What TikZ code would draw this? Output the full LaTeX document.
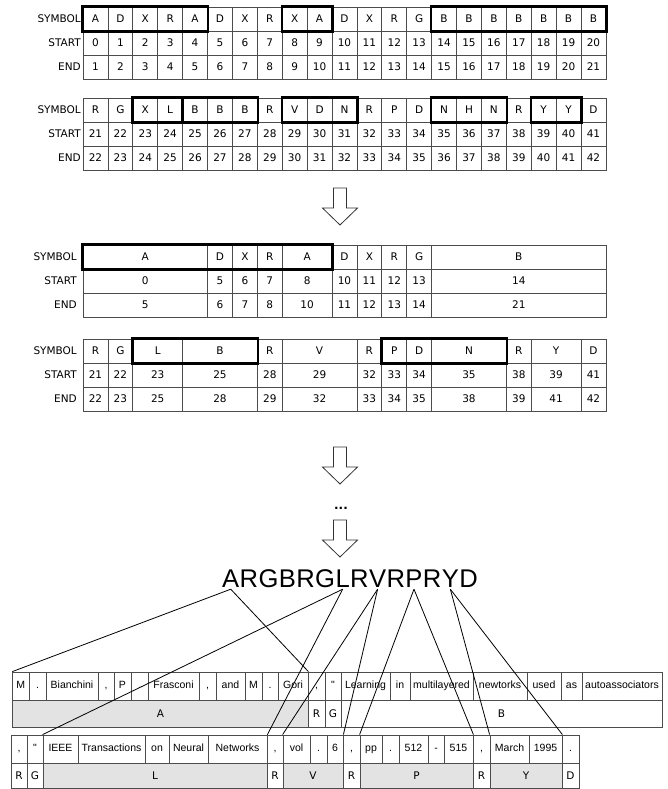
\documentclass[tikz,border=0pt]{standalone}
\usepackage{fontspec}
\setmainfont{DejaVu Sans}
\newfontfamily\arialfont{Liberation Sans}
\usetikzlibrary{positioning}

\newcommand{\tabX}{83}
\newcommand{\cw}{24.9}
\newcommand{\tabfont}{\fontsize{10.5}{12}\selectfont}

\tikzset{
  cell/.style={draw=black!70,line width=0.8pt,minimum width=\cw,minimum height=24,inner sep=0pt,font=\tabfont},
  rowlab/.style={anchor=east,inner sep=0pt,font=\tabfont},
  thickbox/.style={draw=black,line width=2.4pt},
  hollow/.style={draw=black!80,line width=0.8pt,fill=white},
  tok/.style={draw=black!70,line width=0.8pt,minimum height=28,inner sep=0pt,text height=7.6pt,text depth=2.2pt,
    font=\arialfont\fontsize{10.5}{12}\selectfont},
  tagcell/.style={draw=black!70,line width=0.8pt,inner sep=0pt,font=\tabfont},
  letter/.style={inner xsep=0pt,inner ysep=2pt,text height=19pt,text depth=0pt,font=\arialfont\fontsize{25.6}{26}\selectfont},
  conn/.style={draw=black,line width=0.8pt}
}

% one column per symbol: symbol, start, end
\newcommand{\fulltable}[3]{%
  \foreach \cs [count=\i from 0] in {#3} {
    \pgfmathtruncatemacro{\ci}{#2+\i}
    \pgfmathtruncatemacro{\cj}{#2+\i+1}
    \node[cell] (s\ci) at ({\tabX+(\i+0.5)*\cw},{#1+12}) {\cs};
    \node[cell] (b\ci) at ({\tabX+(\i+0.5)*\cw},{#1+36}) {\ci};
    \node[cell] (e\ci) at ({\tabX+(\i+0.5)*\cw},{#1+60}) {\cj};
  }
  \foreach \cl [count=\r from 0] in {SYMBOL,START,END}
    \node[rowlab] (lab#2\r) at (81,{#1+12+24*\r}) {\cl};
}

% merged runs: from/to/symbol
\newcommand{\mergedtable}[3]{%
  \foreach \ca/\cb/\cs in {#3} {
    \node[cell,minimum width={(\cb-\ca)*\cw}] (ms\ca) at ({\tabX+((\ca+\cb)/2-#2)*\cw},{#1+12}) {\cs};
    \node[cell,minimum width={(\cb-\ca)*\cw}] (mb\ca) at ({\tabX+((\ca+\cb)/2-#2)*\cw},{#1+36}) {\ca};
    \node[cell,minimum width={(\cb-\ca)*\cw}] (me\ca) at ({\tabX+((\ca+\cb)/2-#2)*\cw},{#1+60}) {\cb};
  }
  \foreach \cl [count=\r from 0] in {SYMBOL,START,END}
    \node[rowlab] (mlab#2\r) at (77,{#1+12+24*\r}) {\cl};
}

\newcommand{\hollowarrow}[2]{%
  \draw[hollow] ({#1-6.5},#2) -- ({#1+6.5},#2) -- ({#1+6.5},{#2+20}) -- ({#1+17.5},{#2+20})
    -- (#1,{#2+37}) -- ({#1-17.5},{#2+20}) -- ({#1-6.5},{#2+20}) -- cycle;
}

\begin{document}
\begin{tikzpicture}[x=1pt,y=-1pt]
\useasboundingbox (0,0) rectangle (667,789);

%% ---------------- raw symbol tables ----------------
\fulltable{7}{0}{A,D,X,R,A,D,X,R,X,A,D,X,R,G,B,B,B,B,B,B,B}
\fulltable{98}{21}{R,G,X,L,B,B,B,R,V,D,N,R,P,D,N,H,N,R,Y,Y,D}

\draw[thickbox] (s0.north west) rectangle (s4.south east);
\draw[thickbox] (s8.north west) rectangle (s9.south east);
\draw[thickbox] (s14.north west) rectangle (s20.south east);
\draw[thickbox] (s23.north west) rectangle (s24.south east);
\draw[thickbox] (s25.north west) rectangle (s27.south east);
\draw[thickbox] (s29.north west) rectangle (s31.south east);
\draw[thickbox] (s35.north west) rectangle (s37.south east);
\draw[thickbox] (s39.north west) rectangle (s40.south east);

\hollowarrow{340}{188}

%% ---------------- merged tables ----------------
\mergedtable{245}{0}{0/5/A,5/6/D,6/7/X,7/8/R,8/10/A,10/11/D,11/12/X,12/13/R,13/14/G,14/21/B}
\mergedtable{339}{21}{21/22/R,22/23/G,23/25/L,25/28/B,28/29/R,29/32/V,32/33/R,33/34/P,34/35/D,35/38/N,38/39/R,39/41/Y,41/42/D}

\draw[thickbox] (ms0.north west) rectangle (ms8.south east);
\draw[thickbox] (ms23.north west) rectangle (ms25.south east);
\draw[thickbox] (ms33.north west) rectangle (ms35.south east);

\hollowarrow{340}{447}
\node[font=\bfseries\fontsize{12}{12}\selectfont,inner sep=0pt] (dots) at (341,508) {...};
\hollowarrow{340}{520}

%% ---------------- reference string ----------------
\node[letter,anchor=base west] (w1) at (222,587) {A};
\foreach \ch [count=\i from 2] in {R,G,B,R,G,L,R,V,R,P,R,Y,D} {
  \pgfmathtruncatemacro{\ip}{\i-1}
  \node[letter,right=0pt of w\ip] (w\i) {\ch};
}

%% ---------------- tokens of the citation ----------------
\foreach \ca/\cb/\ct [count=\i] in {12.7/29/M,29/46/.,46/98/Bianchini,98/114/{,},114/131/P,131/148/.,
    148/199/Frasconi,199/216/{,},216/245/and,245/262/M,262/278/.,278/308/Gori,308/325/{,},325/341/",
    341/390/Learning,390/410/in,410/473/multilayered,473/527/newtorks,527/561/used,561/582/as,582/662/autoassociators}
  \node[tok,minimum width={\cb-\ca}] (ta\i) at ({(\ca+\cb)/2},686) {\ct};
\foreach \ca/\cb/\ct/\cc [count=\i] in {12.7/308/A/black!11,308/325/R/white,325/341/G/white,341/662/B/white}
  \node[tagcell,fill=\cc,minimum width={\cb-\ca},minimum height=27] (ga\i) at ({(\ca+\cb)/2},713.5) {\ct};

\foreach \ca/\cb/\ct [count=\i] in {11/27/{,},27/43/",43/78/IEEE,78/145/Transactions,145/169/on,169/208/Neural,
    208/267/Networks,267/283/{,},283/310/vol,310/327/.,327/343/6,343/360/{,},360/382/pp,382/399/.,
    399/428/512,428/444/-,444/473/515,473/490/{,},490/529/March,529/562/1995,562/579/.}
  \node[tok,minimum width={\cb-\ca}] (tb\i) at ({(\ca+\cb)/2},749) {\ct};
\foreach \ca/\cb/\ct/\cc [count=\i] in {11/27/R/white,27/43/G/white,43/267/L/black!11,267/283/R/white,
    283/343/V/black!11,343/360/R/white,360/473/P/black!11,473/490/R/white,490/562/Y/black!11,562/579/D/white}
  \node[tagcell,fill=\cc,minimum width={\cb-\ca},minimum height=25.5] (gb\i) at ({(\ca+\cb)/2},775.75) {\ct};

%% ---------------- letter to token span ----------------
\draw[conn] (w1.south) -- (ta1.north west);
\draw[conn] (w1.south) -- (ta12.north east);
\draw[conn] (w7.south) -- (tb3.north west);
\draw[conn] (w7.south) -- (tb7.north east);
\draw[conn] (w9.south) -- (tb9.north west);
\draw[conn] (w9.south) -- (tb11.north east);
\draw[conn] (w11.south) -- (tb13.north west);
\draw[conn] (w11.south) -- (tb17.north east);
\draw[conn] (w13.south) -- (tb19.north west);
\draw[conn] (w13.south) -- (tb20.north east);

\end{tikzpicture}
\end{document}
